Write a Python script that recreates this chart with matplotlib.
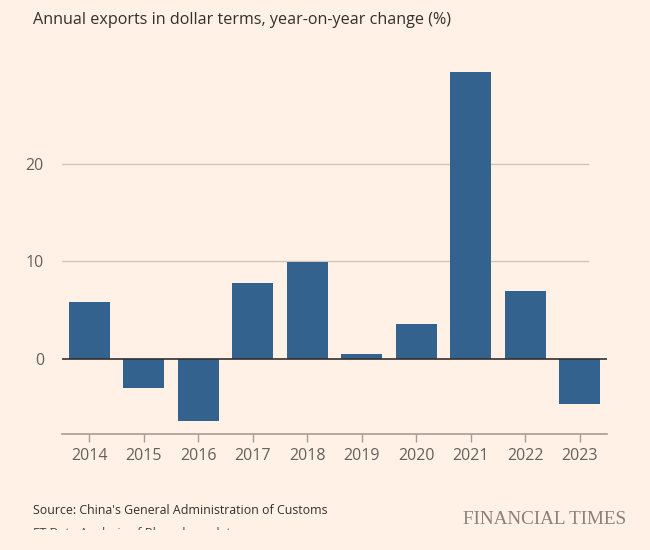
import matplotlib.pyplot as plt
from matplotlib.transforms import Bbox, TransformedBbox

years = ['2014', '2015', '2016', '2017', '2018', '2019', '2020', '2021', '2022', '2023']
change = [5.9, -2.9, -6.3, 7.8, 9.9, 0.5, 3.6, 29.4, 7.0, -4.6]

bg = '#FFF1E5'
bar_col = '#33628F'
txt = '#66605C'

plt.rcParams['font.family'] = ['Open Sans', 'DejaVu Sans']

fig = plt.figure(figsize=(6.5, 5.5), dpi=100, facecolor=bg)
ax = fig.add_axes([62 / 650, 116 / 550, 545 / 650, 368 / 550], facecolor=bg)

# gridlines (slightly shorter than the axis)
for v in [10, 20]:
    ax.axhline(v, xmin=0, xmax=0.965, color='#CFC5BA', lw=1, zorder=0)

x = range(len(years))
ax.bar(x, change, width=0.75, color=bar_col, zorder=2)
ax.axhline(0, color='#33302E', lw=1.2, zorder=3)

ax.set_xlim(-0.5, len(years) - 0.5)
ax.set_ylim(-7.65, 30.0)
ax.set_yticks([0, 10, 20])
ax.set_xticks(list(x))
ax.set_xticklabels(years)

for s in ['top', 'right', 'left']:
    ax.spines[s].set_visible(False)
ax.spines['bottom'].set_color('#A69C93')
ax.spines['bottom'].set_linewidth(1.2)
ax.tick_params(axis='y', length=0, pad=13, labelsize=11.5, labelcolor=txt)
ax.tick_params(axis='x', length=6, width=1, color='#A69C93', pad=4,
               labelsize=11.5, labelcolor=txt)

fig.text(33 / 650, 1 - 20 / 550, 'Annual exports in dollar terms, year-on-year change (%)',
         fontsize=11.6, color='#33302E', va='center', ha='left')
fig.text(33 / 650, 1 - 510 / 550, "Source: China's General Administration of Customs",
         fontsize=8.9, color='#33302E', va='center', ha='left')

# second source line is cut off in the original, only the top of it shows
t = fig.text(33 / 650, 1 - 527 / 550, 'FT Data Analysis of Bloomberg data',
             fontsize=8.9, color='#4D4845', va='top', ha='left', clip_on=True)
t.set_clip_box(TransformedBbox(Bbox.from_extents(0, 1 - 530 / 550, 1, 1), fig.transFigure))

fig.text(626 / 650, 1 - 520 / 550, 'FINANCIAL TIMES', fontsize=13.8,
         family=['Liberation Serif', 'DejaVu Serif'], color='#8C817A',
         va='center', ha='right')

fig.savefig('out.png', dpi=100, facecolor=bg)
